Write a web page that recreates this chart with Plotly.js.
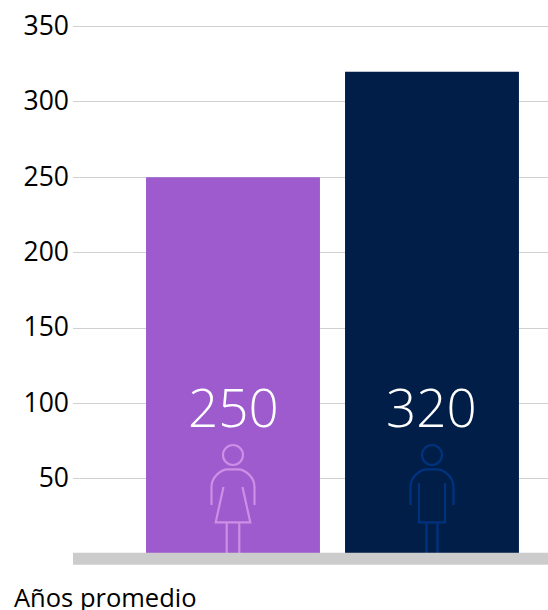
<!DOCTYPE html>
<html>
<head>
<meta charset="utf-8">
<script src="https://cdn.plot.ly/plotly-3.0.1.min.js"></script>
<style>html,body{margin:0;padding:0;background:#fff}</style>
</head>
<body>
<div id="chart" style="width:548px;height:610px"></div>
<script>
var categories = ["Mujeres", "Hombres"];
var values = [250, 320];
var barColors = ["#9d5bce", "#001e47"];
var iconColors = ["#cd8fe6", "#00337f"];
var yTicks = [50, 100, 150, 200, 250, 300, 350];
var axisLabel = "Años promedio";

var FONT = '"Open Sans", sans-serif';

function pixelShape(catIndex, path, color) {
  return {
    type: "path", path: path, layer: "above",
    xref: "x", yref: "y",
    xsizemode: "pixel", ysizemode: "pixel",
    xanchor: catIndex, yanchor: 0,
    line: {color: color, width: 2.2}, fillcolor: "rgba(0,0,0,0)"
  };
}
var head = "M -10 99 C -10 104.5 -5.5 109 0 109 C 5.5 109 10 104.5 10 99 C 10 93.5 5.5 89 0 89 C -5.5 89 -10 93.5 -10 99 Z";
var arms = "M -21.5 49 L -21.5 67 C -21.5 77 -12 84.7 -5 84.7 L 5 84.7 C 12 84.7 21.5 77 21.5 67 L 21.5 49";
var womanBody = "M -9.5 67 L -17.3 31.7 L 17.3 31.7 L 9.5 67";
var womanLegs = "M -6.3 31.7 L -6.3 1 M 6.3 31.7 L 6.3 1";
var manBody = "M -13 70.7 L -13 31.7 L 13 31.7 L 13 70.7";
var manLegs = "M -5.5 31.7 L -5.5 1 M 5.5 31.7 L 5.5 1";

var shapes = [
  pixelShape(0, head, iconColors[0]),
  pixelShape(0, arms, iconColors[0]),
  pixelShape(0, womanBody, iconColors[0]),
  pixelShape(0, womanLegs, iconColors[0]),
  pixelShape(1, head, iconColors[1]),
  pixelShape(1, arms, iconColors[1]),
  pixelShape(1, manBody, iconColors[1]),
  pixelShape(1, manLegs, iconColors[1]),
  {
    type: "rect", layer: "above",
    xref: "paper", yref: "paper", x0: 0, x1: 1,
    ysizemode: "pixel", yanchor: 0, y0: 1.2, y1: -10.8,
    fillcolor: "#cccccc", line: {width: 0}
  }
];

var annotations = categories.map(function (c, i) {
  return {
    x: c, y: 0, xref: "x", yref: "y",
    text: String(values[i]), showarrow: false,
    xshift: i === 0 ? 1 : 0,
    yshift: 148, xanchor: "center", yanchor: "middle",
    font: {family: FONT, size: 53, color: "#ffffff", weight: 300}
  };
});
annotations.push({
  xref: "paper", yref: "paper", x: -0.1275, y: -0.0805,
  xanchor: "left", yanchor: "middle", showarrow: false,
  text: axisLabel,
  font: {family: FONT, size: 25.5, color: "#000000"}
});

Plotly.newPlot("chart", [{
  type: "bar",
  x: categories,
  y: values,
  width: 0.874,
  marker: {color: barColors, line: {width: 0}},
  hoverinfo: "x+y"
}], {
  width: 548, height: 610,
  margin: {l: 73, r: 0, t: 25, b: 55.6, pad: 0},
  paper_bgcolor: "#ffffff",
  plot_bgcolor: "#ffffff",
  showlegend: false,
  xaxis: {
    type: "category",
    range: [-0.804, 1.583],
    showticklabels: false,
    ticks: "",
    showgrid: false,
    zeroline: false,
    showline: false
  },
  yaxis: {
    range: [0, 351.1],
    tickvals: yTicks,
    ticktext: yTicks.map(String),
    ticks: "",
    ticklabelstandoff: 3,
    ticklabelshift: -1,
    tickfont: {family: FONT, size: 26.5, color: "#000000"},
    showgrid: true,
    gridcolor: "#d0d0d0",
    gridwidth: 1,
    zeroline: false,
    showline: false
  },
  shapes: shapes,
  annotations: annotations
}, {displayModeBar: false, responsive: false});
</script>
</body>
</html>
